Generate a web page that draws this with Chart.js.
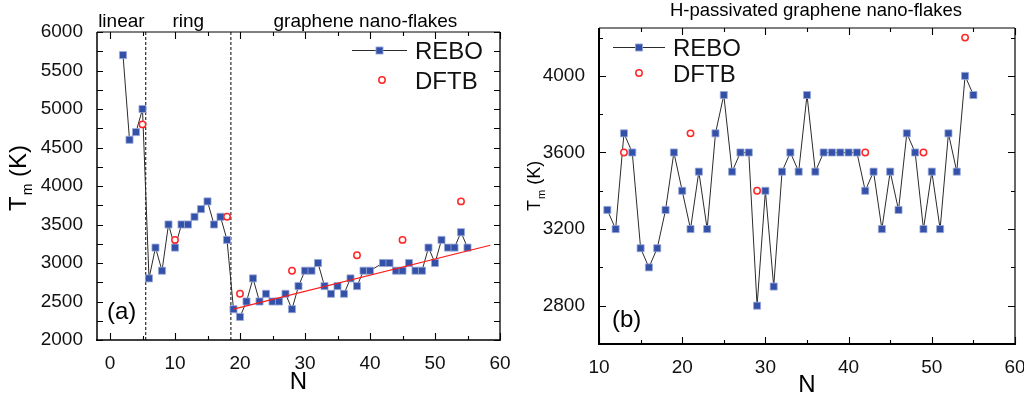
<!DOCTYPE html>
<html>
<head>
<meta charset="utf-8">
<script src="https://cdn.jsdelivr.net/npm/chart.js@4.4.1/dist/chart.umd.min.js"></script>
<style>
  html, body { margin: 0; padding: 0; background: #fff; }
  #wrap { position: relative; width: 1024px; height: 399px; overflow: hidden; }
  .panel { position: absolute; top: 0; width: 512px; height: 399px; }
</style>
</head>
<body>
<div id="wrap">
  <div class="panel" style="left:0"><canvas id="chartA" width="512" height="399"></canvas></div>
  <div class="panel" style="left:512px"><canvas id="chartB" width="512" height="399"></canvas></div>
</div>
<script>
// ---- Panel (a): bare carbon clusters ----
const nRebo = [2, 3, 4, 5, 6, 7, 8, 9, 10, 11, 12, 13, 14, 15, 16, 17, 18, 19, 20, 21, 22, 23, 24, 25, 26, 27, 28, 29,
  30, 31, 32, 33, 34, 35, 36, 37, 38, 39, 40, 42, 43, 44, 45, 46, 47, 48, 49, 50, 51, 52, 53, 54, 55];
const tRebo = [5700, 4600, 4700, 5000, 2800, 3200, 2900, 3500, 3200, 3500, 3500, 3600, 3700, 3800, 3500, 3600, 3300, 2400,
  2300, 2500, 2800, 2500, 2600, 2500, 2500, 2600, 2400, 2700, 2900, 2900, 3000, 2700, 2600, 2700, 2600, 2800, 2700, 2900,
  2900, 3000, 3000, 2900, 2900, 3000, 2900, 2900, 3200, 3000, 3300, 3200, 3200, 3400, 3200];
const nDftb = [5, 10, 18, 20, 28, 38, 45, 54];
const tDftb = [4800, 3300, 3600, 2600, 2900, 3100, 3300, 3800];
const fitN = [19, 58.5];
const fitT = [2400, 3230];
const regionEdges = [-2, 5.5, 18.6, 60];
const regionNames = ["linear", "ring", "graphene nano-flakes"];
const xTicksA = [0, 10, 20, 30, 40, 50, 60];
const yTicksA = [2000, 2500, 3000, 3500, 4000, 4500, 5000, 5500, 6000];

// ---- Panel (b): H-passivated flakes ----
const nReboH = [11, 12, 13, 14, 15, 16, 17, 18, 19, 20, 21, 22, 23, 24, 25, 26, 27, 28, 29, 30, 31, 32, 33, 34, 35, 36,
  37, 38, 39, 40, 41, 42, 43, 44, 45, 46, 47, 48, 49, 50, 51, 52, 53, 54, 55];
const tReboH = [3300, 3200, 3700, 3600, 3100, 3000, 3100, 3300, 3600, 3400, 3200, 3500, 3200, 3700, 3900, 3500, 3600,
  3600, 2800, 3400, 2900, 3500, 3600, 3500, 3900, 3500, 3600, 3600, 3600, 3600, 3600, 3400, 3500, 3200, 3500, 3300,
  3700, 3600, 3200, 3500, 3200, 3700, 3500, 4000, 3900];
const nDftbH = [13, 21, 29, 42, 49, 54];
const tDftbH = [3600, 3700, 3400, 3600, 3600, 4200];
const xTicksB = [10, 20, 30, 40, 50, 60];
const yTicksB = [2800, 3200, 3600, 4000];

const FONT = "'Liberation Sans', Arial, Helvetica, sans-serif";
const pts = (xs, ys) => xs.map((v, i) => ({ x: v, y: ys[i] }));

const reboStyle = {
  showLine: true, borderColor: "#2b2b2b", borderWidth: 1, pointStyle: "rect", pointRadius: 5,
  pointBackgroundColor: "#3351a8", pointBorderColor: "#9aaad8", pointBorderWidth: 0.8,
};
const dftbStyle = {
  showLine: false, pointStyle: "circle", pointRadius: 3.2, pointBackgroundColor: "#fff",
  pointBorderColor: "#ff2626", pointBorderWidth: 1.5,
};

// minor ticks sit halfway between the labelled ones
function halfSteps(ticks, min, max) {
  const s = (ticks[1] - ticks[0]) / 2, out = [];
  for (let v = ticks[0] - s; v <= max + 1e-9; v += 2 * s) if (v >= min - 1e-9) out.push(v);
  return out;
}

// frame, inward ticks, legend, labels
const decor = {
  id: "decor",
  afterDraw(chart, _a, o) {
    const { ctx, chartArea: a, scales: { x, y } } = chart;
    ctx.save();
    ctx.strokeStyle = "#000"; ctx.fillStyle = "#000";
    ctx.lineWidth = 1.1;
    const xt = (vals, len) => vals.forEach((v) => {
      const p = Math.round(x.getPixelForValue(v)) + 0.5;
      ctx.beginPath(); ctx.moveTo(p, a.bottom); ctx.lineTo(p, a.bottom - len);
      ctx.moveTo(p, a.top); ctx.lineTo(p, a.top + len); ctx.stroke();
    });
    const yt = (vals, len) => vals.forEach((v) => {
      const p = Math.round(y.getPixelForValue(v)) + 0.5;
      ctx.beginPath(); ctx.moveTo(a.left, p); ctx.lineTo(a.left + len, p);
      ctx.moveTo(a.right, p); ctx.lineTo(a.right - len, p); ctx.stroke();
    });
    xt(o.xMajor, 7); xt(halfSteps(o.xMajor, x.min, x.max), 4);
    yt(o.yMajor, o.yLen[0]); yt(halfSteps(o.yMajor, y.min, y.max), o.yLen[1]);

    // frame with per-side widths
    const side = (w, x0, y0, x1, y1) => { ctx.lineWidth = w; ctx.beginPath(); ctx.moveTo(x0, y0); ctx.lineTo(x1, y1); ctx.stroke(); };
    side(o.frame.top, a.left, a.top, a.right, a.top);
    side(o.frame.right, a.right, a.top, a.right, a.bottom);
    side(o.frame.bottom, a.left - 1, a.bottom, a.right + 1, a.bottom);
    side(o.frame.left, a.left, a.top, a.left, a.bottom + 1);

    // region labels above the frame
    if (o.regions) {
      ctx.font = `19px ${FONT}`; ctx.textAlign = "center"; ctx.textBaseline = "alphabetic";
      o.regions.names.forEach((name, i) => {
        const e = o.regions.edges;
        ctx.fillText(name, x.getPixelForValue((e[i] + e[i + 1]) / 2), o.regions.y);
      });
    }
    if (o.title) {
      ctx.font = `${o.title.size}px ${FONT}`; ctx.textAlign = "center"; ctx.textBaseline = "alphabetic";
      ctx.fillText(o.title.text, o.title.x, o.title.y);
    }

    // legend: REBO line+square, DFTB circle
    const L = o.legend;
    const rebo = chart.data.datasets[L.rebo], dftb = chart.data.datasets[L.dftb];
    const mid = (L.x0 + L.x1) / 2;
    ctx.strokeStyle = rebo.borderColor; ctx.lineWidth = 1;
    ctx.beginPath(); ctx.moveTo(L.x0, L.rows[0] + 0.5); ctx.lineTo(L.x1, L.rows[0] + 0.5); ctx.stroke();
    const s = rebo.pointRadius * Math.SQRT1_2;
    ctx.fillStyle = rebo.pointBackgroundColor; ctx.fillRect(mid - s, L.rows[0] - s + 0.5, 2 * s, 2 * s);
    ctx.strokeStyle = rebo.pointBorderColor; ctx.lineWidth = 0.8; ctx.strokeRect(mid - s, L.rows[0] - s + 0.5, 2 * s, 2 * s);
    ctx.beginPath(); ctx.arc(L.cx, L.rows[1], dftb.pointRadius, 0, Math.PI * 2);
    ctx.fillStyle = "#fff"; ctx.fill();
    ctx.strokeStyle = dftb.pointBorderColor; ctx.lineWidth = dftb.pointBorderWidth; ctx.stroke();
    ctx.fillStyle = "#111"; ctx.font = `24px ${FONT}`; ctx.textAlign = "left"; ctx.textBaseline = "alphabetic";
    ctx.fillText(rebo.label, L.textX, L.rows[0] + 8.5);
    ctx.fillText(dftb.label, L.textX, L.rows[1] + 8.5);

    // panel tag
    ctx.fillStyle = "#000";
    ctx.fillText(o.tag.text, o.tag.x, o.tag.y);

    // axis titles
    ctx.textAlign = "center";
    ctx.fillText("N", (a.left + a.right) / 2, o.nY);
    const t = o.yTitle;
    ctx.translate(t.x, t.y); ctx.rotate(-Math.PI / 2);
    ctx.textAlign = "left";
    ctx.font = `${t.size}px ${FONT}`; ctx.fillText("T", 0, 0);
    let w = ctx.measureText("T").width + 1;
    ctx.font = `${t.sub}px ${FONT}`; ctx.fillText("m", w, t.drop);
    w += ctx.measureText("m").width;
    ctx.font = `${t.size}px ${FONT}`; ctx.fillText(" (K)", w, 0);
    ctx.restore();
  },
};

function makeScales(xr, yr, xTicks, yTicks, yWidth, xHeight) {
  const tickFont = { family: FONT, size: 19 };
  const common = { grid: { display: false }, border: { display: false } };
  return {
    x: {
      ...common, type: "linear", min: xr[0], max: xr[1],
      afterBuildTicks: (s) => { s.ticks = xTicks.map((v) => ({ value: v })); },
      afterFit: (s) => { s.height = xHeight; s.paddingLeft = 0; s.paddingRight = 0; },
      ticks: { color: "#111", font: tickFont, padding: 4, maxRotation: 0, callback: (v) => String(v) },
    },
    y: {
      ...common, type: "linear", min: yr[0], max: yr[1],
      afterBuildTicks: (s) => { s.ticks = yTicks.map((v) => ({ value: v })); },
      afterFit: (s) => { s.width = yWidth; s.paddingTop = 0; s.paddingBottom = 0; },
      ticks: { color: "#111", font: tickFont, padding: 6, callback: (v) => String(v) },
    },
  };
}

Chart.defaults.animation = false;
Chart.defaults.events = [];

new Chart(document.getElementById("chartA"), {
  type: "scatter",
  data: {
    datasets: [
      { label: "DFTB", data: pts(nDftb, tDftb), ...dftbStyle },
      { label: "fit", data: pts(fitN, fitT), showLine: true, borderColor: "#ff1a1a", borderWidth: 1.2, pointRadius: 0 },
      { label: "REBO", data: pts(nRebo, tRebo), ...reboStyle },
      ...regionEdges.slice(1, 3).map((e) => ({
        label: "edge", data: pts([e, e], [yTicksA[0], yTicksA[yTicksA.length - 1]]), showLine: true,
        borderColor: "#000", borderWidth: 1, borderDash: [3, 2], pointRadius: 0,
      })),
    ],
  },
  options: {
    responsive: false, devicePixelRatio: 1,
    layout: { padding: { top: 32, right: 12, left: 0, bottom: 0 } },
    scales: makeScales([regionEdges[0], 60], [2000, 6000], xTicksA, yTicksA, 97, 59),
    plugins: {
      legend: { display: false }, tooltip: { enabled: false },
      decor: {
        xMajor: xTicksA, yMajor: yTicksA, yLen: [6, 6],
        frame: { top: 1, right: 1.3, bottom: 1.7, left: 1.5 },
        regions: { edges: regionEdges, names: regionNames, y: 27 },
        legend: { rebo: 2, dftb: 0, x0: 352, x1: 407, cx: 382, rows: [50, 80], textX: 415 },
        tag: { text: "(a)", x: 107, y: 319 },
        nY: 389,
        yTitle: { x: 26, y: 211, size: 24, sub: 14, drop: 6 },
      },
    },
  },
  plugins: [decor],
});

new Chart(document.getElementById("chartB"), {
  type: "scatter",
  data: {
    datasets: [
      { label: "DFTB", data: pts(nDftbH, tDftbH), ...dftbStyle },
      { label: "REBO", data: pts(nReboH, tReboH), ...reboStyle },
    ],
  },
  options: {
    responsive: false, devicePixelRatio: 1,
    layout: { padding: { top: 28, right: 9, left: 0, bottom: 0 } },
    scales: makeScales([10, 60], [2600, 4250], xTicksB, yTicksB, 87, 55),
    plugins: {
      legend: { display: false }, tooltip: { enabled: false },
      decor: {
        xMajor: xTicksB, yMajor: yTicksB, yLen: [7, 4],
        frame: { top: 1, right: 1.2, bottom: 2, left: 2 },
        title: { text: "H-passivated graphene nano-flakes", x: 304, y: 16, size: 18.5 },
        legend: { rebo: 1, dftb: 0, x0: 101, x1: 153, cx: 127, rows: [47, 73], textX: 161 },
        tag: { text: "(b)", x: 100, y: 327 },
        nY: 392,
        yTitle: { x: 28, y: 211, size: 18, sub: 11, drop: 5 },
      },
    },
  },
  plugins: [decor],
});
</script>
</body>
</html>
